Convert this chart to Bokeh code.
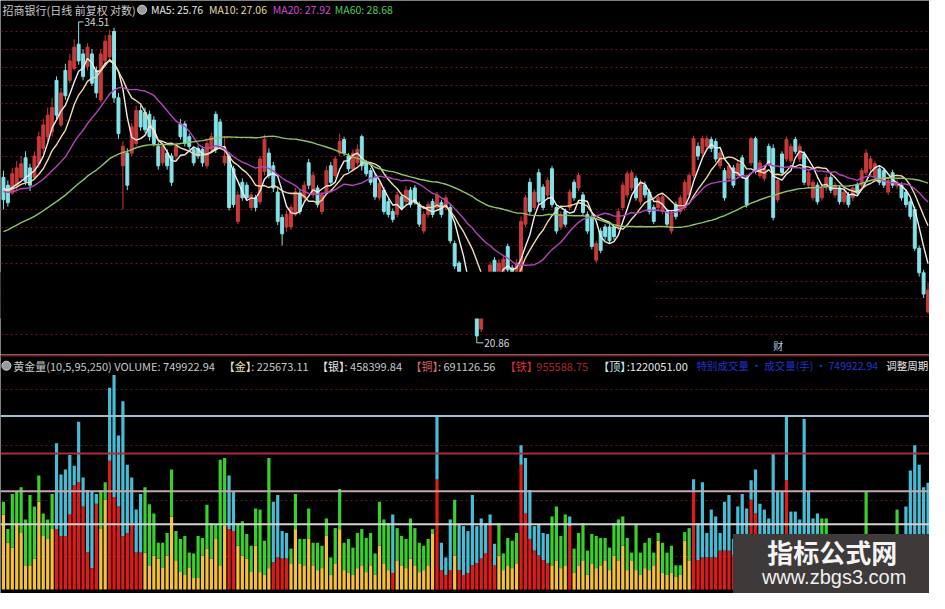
import numpy as np
from bokeh.plotting import figure
from bokeh.models import Range1d, Label, Span, BoxAnnotation, ColumnDataSource, FixedTicker
from bokeh.layouts import column
from bokeh.embed import file_html
from bokeh.resources import INLINE

# ---------------- data ----------------
OPEN = [26.96, 26.63, 26.30, 26.63, 26.96, 27.81, 27.37, 26.96, 27.55, 28.23,
        28.76, 28.99, 31.45, 29.30, 31.95, 31.45, 32.05, 33.31, 32.80, 32.15,
        32.80, 31.95, 30.49, 32.44, 32.64, 33.99, 30.59, 27.46, 28.02, 28.02,
        28.45, 29.98, 29.89, 29.80, 29.53, 28.32, 27.59, 28.02, 27.89, 27.89,
        29.35, 29.35, 28.76, 28.19, 28.23, 28.19, 27.46, 28.19, 29.80, 29.44,
        27.59, 27.89, 27.33, 25.14, 26.75, 26.63, 25.70, 26.10, 25.94, 27.21,
        28.02, 27.46, 26.34, 25.30, 24.92, 24.92, 25.42, 26.30, 26.10, 27.59,
        26.22, 26.51, 25.54, 26.34, 27.46, 27.04, 28.02, 28.63, 27.89, 27.33,
        27.59, 28.76, 27.59, 27.25, 26.96, 26.10, 26.42, 25.94, 25.54, 25.42,
        26.14, 25.94, 26.42, 26.51, 25.82, 24.76, 25.42, 25.94, 25.70, 25.90,
        25.70, 25.70, 24.27, 23.53, 23.00, 22.75, 21.85, 22.29, 21.19, 21.85,
        22.82, 23.64, 23.13, 23.17, 24.16, 23.35, 22.75, 23.00, 25.03, 26.75,
        25.70, 27.16, 26.55, 26.22, 27.33, 25.70, 24.92, 25.54, 25.70, 26.75,
        26.51, 26.22, 25.42, 25.30, 23.64, 24.76, 24.92, 24.92, 24.92, 24.92,
        25.70, 26.22, 26.51, 26.92, 25.94, 26.63, 26.34, 25.70, 25.70, 25.54,
        25.54, 24.76, 25.82, 25.54, 25.70, 26.22, 27.04, 28.32, 28.02, 28.32,
        28.63, 28.54, 27.46, 27.25, 26.92, 27.37, 27.04, 27.81, 26.92, 27.59,
        28.67, 27.04, 26.92, 28.32, 28.23, 26.02, 27.98, 27.76, 27.68, 28.63,
        27.76, 27.98, 26.63, 26.10, 26.63, 26.10, 26.51, 26.96, 26.22, 26.51,
        25.94, 26.22, 26.10, 26.63, 26.63, 27.16, 27.33, 26.96, 27.33, 27.25,
        26.34, 27.16, 26.59, 26.63, 26.34, 25.94, 25.62, 24.09, 23.17, 21.78]
HIGH = [27.25, 26.83, 27.37, 27.68, 27.89, 28.10, 27.55, 28.10, 28.99, 29.58,
        30.12, 30.59, 31.65, 31.07, 32.29, 32.80, 33.57, 34.51, 33.05, 33.36,
        33.05, 32.15, 33.05, 33.78, 34.09, 34.19, 30.83, 28.54, 28.23, 29.39,
        30.21, 30.21, 30.12, 29.98, 29.71, 28.50, 28.45, 28.19, 28.02, 28.50,
        29.58, 29.49, 28.90, 28.32, 28.36, 28.32, 28.58, 28.94, 29.94, 29.58,
        28.76, 28.06, 27.46, 26.38, 26.92, 26.75, 26.34, 26.22, 27.89, 28.85,
        28.23, 27.63, 26.51, 25.42, 25.58, 25.82, 26.51, 26.42, 26.79, 27.76,
        27.21, 26.63, 26.34, 27.46, 27.63, 27.89, 28.90, 28.76, 28.02, 28.19,
        28.41, 28.85, 27.72, 27.37, 27.12, 26.83, 26.55, 26.06, 25.66, 26.34,
        26.26, 26.59, 26.55, 26.63, 25.94, 25.54, 25.94, 26.06, 26.34, 26.02,
        26.22, 25.82, 24.38, 23.61, 23.10, 22.82, 22.61, 22.47, 21.95, 22.75,
        23.57, 23.75, 23.68, 23.83, 24.27, 23.46, 23.68, 25.34, 26.22, 26.92,
        26.46, 27.33, 26.67, 26.96, 27.46, 25.82, 25.54, 25.66, 26.46, 26.87,
        27.16, 26.34, 25.54, 25.42, 24.38, 24.88, 25.03, 25.03, 25.03, 25.66,
        26.75, 27.25, 27.29, 27.04, 26.87, 26.79, 26.46, 25.82, 26.22, 26.26,
        25.66, 25.54, 25.94, 26.22, 26.87, 27.16, 28.81, 28.50, 28.81, 28.81,
        28.76, 28.67, 28.15, 27.37, 27.59, 27.50, 27.68, 27.94, 27.04, 28.76,
        28.76, 27.72, 27.46, 28.45, 28.41, 26.96, 28.10, 28.76, 28.45, 28.76,
        28.45, 28.10, 27.29, 26.87, 26.75, 26.63, 27.08, 27.08, 26.75, 26.63,
        26.46, 26.34, 26.63, 26.75, 27.37, 28.19, 27.89, 27.68, 27.46, 27.37,
        26.96, 27.29, 26.87, 26.75, 26.46, 26.06, 25.74, 24.20, 23.28, 22.82]
LOW = [25.62, 25.74, 26.22, 26.42, 26.79, 26.63, 26.38, 26.83, 27.37, 27.98,
       28.54, 28.76, 29.58, 29.21, 30.49, 31.31, 31.95, 32.24, 31.45, 31.95,
       31.17, 30.59, 30.35, 32.24, 32.54, 30.35, 28.67, 25.62, 26.42, 27.89,
       28.32, 29.03, 28.94, 28.58, 28.32, 27.29, 27.46, 27.29, 26.59, 27.72,
       28.63, 28.32, 28.19, 27.46, 27.76, 27.42, 27.33, 28.06, 28.02, 28.19,
       27.46, 25.58, 25.70, 25.03, 25.98, 25.98, 25.58, 25.54, 25.82, 27.04,
       26.92, 26.34, 24.99, 24.20, 24.73, 24.80, 25.34, 25.42, 25.98, 26.46,
       26.10, 25.70, 25.42, 26.22, 26.63, 26.92, 27.89, 27.89, 27.21, 27.21,
       27.46, 27.25, 27.00, 26.63, 26.02, 25.98, 25.42, 25.30, 25.10, 25.30,
       25.58, 25.82, 25.70, 25.82, 24.92, 24.65, 25.30, 25.30, 25.58, 25.30,
       25.58, 24.27, 23.31, 22.64, 22.19, 21.92, 21.71, 20.86, 21.09, 21.78,
       22.71, 23.06, 22.96, 23.06, 23.17, 22.61, 22.64, 22.82, 24.92, 25.42,
       25.58, 25.82, 25.58, 26.10, 25.70, 24.65, 24.80, 24.92, 25.58, 25.98,
       26.38, 25.38, 24.65, 24.05, 23.53, 23.90, 24.42, 24.27, 24.42, 24.80,
       25.58, 26.10, 26.38, 25.98, 25.82, 26.10, 25.42, 25.03, 25.58, 25.42,
       24.92, 24.65, 25.22, 25.42, 25.58, 26.10, 26.92, 27.72, 27.89, 28.19,
       28.06, 27.63, 27.33, 25.98, 26.79, 26.51, 26.92, 26.92, 25.70, 27.46,
       27.12, 26.92, 26.79, 27.46, 25.18, 25.90, 27.04, 27.63, 27.55, 27.98,
       27.63, 26.63, 26.51, 25.98, 25.82, 25.98, 26.38, 26.30, 26.10, 25.82,
       25.82, 25.70, 25.98, 26.18, 26.51, 27.04, 27.21, 26.83, 26.63, 26.51,
       26.22, 26.51, 26.46, 25.98, 25.70, 25.22, 23.98, 23.03, 22.26, 21.71]
CLOSE = [26.02, 25.90, 27.12, 27.37, 27.55, 26.79, 26.63, 27.89, 28.76, 29.30,
         29.76, 30.12, 29.76, 30.83, 30.69, 32.44, 33.15, 32.44, 31.65, 33.15,
         31.31, 30.83, 32.80, 33.47, 33.78, 30.59, 28.90, 28.32, 26.63, 29.21,
         29.98, 29.21, 29.08, 28.76, 28.45, 27.46, 28.32, 27.46, 26.75, 28.32,
         28.76, 28.45, 28.32, 27.59, 27.89, 27.59, 28.45, 28.76, 28.19, 28.32,
         27.89, 25.70, 25.82, 26.22, 26.10, 26.10, 26.22, 25.70, 27.76, 28.63,
         27.04, 26.51, 25.14, 24.65, 25.42, 25.70, 26.34, 25.54, 26.63, 26.63,
         27.04, 25.82, 26.22, 27.25, 26.75, 27.76, 28.54, 28.02, 27.33, 28.02,
         28.19, 27.46, 27.12, 26.75, 26.14, 26.71, 25.54, 25.42, 25.22, 26.22,
         25.70, 26.42, 25.82, 25.94, 25.03, 25.42, 25.82, 25.42, 26.22, 25.42,
         26.10, 24.38, 23.42, 22.82, 22.29, 22.05, 22.47, 20.96, 21.85, 22.64,
         23.46, 23.17, 23.53, 23.68, 23.28, 22.75, 23.53, 25.14, 26.10, 25.54,
         26.34, 25.94, 25.70, 26.83, 25.82, 24.76, 25.42, 25.03, 26.34, 26.10,
         27.04, 25.50, 24.76, 24.16, 24.27, 24.01, 24.54, 24.38, 24.54, 25.54,
         26.63, 27.12, 27.16, 26.10, 26.75, 26.22, 25.54, 25.14, 26.10, 26.14,
         25.03, 25.42, 25.34, 26.10, 26.75, 27.04, 28.67, 27.89, 28.67, 28.67,
         28.23, 27.76, 28.02, 26.10, 27.46, 26.63, 27.55, 27.04, 25.82, 28.67,
         27.25, 27.59, 27.33, 27.59, 25.30, 26.83, 27.16, 28.63, 28.32, 28.10,
         28.32, 26.75, 27.16, 26.75, 25.94, 26.51, 26.96, 26.42, 26.63, 25.94,
         26.34, 25.82, 26.51, 26.30, 27.25, 28.02, 27.76, 27.55, 26.75, 26.63,
         26.83, 26.63, 26.75, 26.10, 25.82, 25.34, 24.09, 23.17, 22.40, 22.54]
# closes before the visible window (needed for the moving averages)
HIST_CLOSE = [21.55, 21.70, 21.61, 21.82, 22.00, 21.91, 22.15, 22.30, 22.18, 22.40,
              22.55, 22.48, 22.72, 22.60, 22.81, 22.95, 22.86, 23.08, 23.00, 23.22,
              23.15, 23.35, 23.50, 23.42, 23.65, 23.80, 23.72, 23.98, 24.15,
              25.10, 25.80, 26.50, 27.05, 27.60, 27.90, 27.55, 27.75, 27.30, 26.90,
              26.85, 26.50, 26.70, 26.30, 26.05, 26.40, 26.20, 25.95, 26.30, 26.55,
              26.25, 26.00, 26.35, 26.60, 26.40, 26.15, 26.30, 26.55, 26.75, 26.90]
MA_PERIODS = [5, 10, 20, 60]
MA_LAST = [25.76, 27.06, 27.92, 28.68]   # values printed in the header

# volume in 万手 (total bar, lower segment) and heavy-volume flag
VOL = [61.7, 42.5, 67.2, 68.5, 72.0, 49.3, 66.5, 58.3, 80.2, 53.5,
       49.3, 67.2, 102.8, 80.9, 84.3, 94.6, 87.0, 117.9, 78.8, 69.9,
       68.5, 67.2, 69.9, 75.4, 141.9, 150.8, 108.3, 132.3, 87.7, 78.8,
       56.2, 67.2, 72.0, 60.0, 53.5, 32.9, 32.9, 39.8, 84.3, 41.1,
       35.6, 37.7, 26.0, 25.4, 37.7, 36.3, 59.6, 46.6, 45.9, 91.2,
       92.5, 80.2, 68.5, 46.6, 48.0, 39.1, 30.8, 56.9, 56.2, 34.3,
       92.5, 61.7, 66.5, 41.1, 39.8, 28.8, 67.2, 35.6, 35.6, 56.9,
       32.9, 32.9, 30.8, 50.0, 22.6, 43.2, 70.6, 32.9, 35.6, 29.5,
       39.8, 42.5, 36.3, 39.8, 25.4, 61.7, 49.3, 46.6, 52.8, 43.2,
       37.7, 35.6, 50.0, 43.2, 32.9, 30.8, 35.6, 42.5, 122.0, 32.9,
       22.6, 49.3, 63.1, 45.9, 44.6, 41.1, 66.5, 44.6, 50.0, 46.6,
       52.8, 32.2, 46.6, 25.4, 36.3, 34.3, 39.8, 101.4, 92.5, 69.9,
       44.6, 45.9, 39.8, 39.1, 51.4, 58.3, 37.7, 52.8, 51.4, 28.8,
       39.8, 46.6, 27.4, 39.1, 37.7, 36.3, 36.3, 29.5, 46.6, 49.3,
       51.4, 36.3, 26.0, 45.9, 26.0, 32.9, 36.3, 26.0, 39.8, 32.9,
       26.0, 30.8, 17.1, 17.1, 40.4, 43.2, 77.5, 46.6, 75.4, 39.8,
       56.2, 51.4, 39.8, 61.7, 66.5, 35.6, 58.3, 67.2, 56.9, 76.8,
       84.3, 60.3, 56.2, 50.0, 96.0, 68.5, 68.5, 122.0, 54.8, 54.8,
       49.3, 119.9, 68.5, 50.0, 53.5, 50.0, 50.0, 30.8, 27.4, 34.3,
       24.0, 30.8, 27.4, 34.3, 30.8, 68.5, 27.4, 34.3, 30.8, 24.0,
       34.3, 30.8, 56.2, 34.3, 58.3, 83.6, 101.4, 87.7, 72.0, 74.99]
VOL_BASE = [52.8, 32.9, 29.5, 46.6, 39.8, 17.1, 17.1, 21.9, 61.7, 37.7,
            35.6, 42.5, 42.5, 37.7, 37.7, 52.8, 73.3, 75.4, 58.3, 26.0,
            15.1, 60.3, 42.5, 63.1, 90.5, 65.1, 58.3, 37.7, 39.8, 46.6,
            26.0, 26.0, 26.0, 17.1, 24.0, 21.9, 15.1, 24.0, 51.4, 20.6,
            12.3, 10.3, 15.1, 8.2, 8.2, 24.0, 28.8, 21.9, 35.6, 17.1,
            44.6, 42.5, 41.1, 30.8, 24.0, 21.9, 12.3, 30.8, 12.3, 10.3,
            15.1, 19.2, 22.6, 21.9, 21.9, 18.5, 42.5, 18.5, 17.1, 35.6,
            17.1, 13.7, 15.1, 37.7, 10.3, 18.5, 42.5, 13.7, 11.7, 10.3,
            15.1, 17.1, 12.3, 17.1, 10.3, 30.8, 18.5, 13.7, 11.7, 20.6,
            17.1, 15.1, 21.9, 17.1, 12.3, 13.7, 17.1, 39.1, 77.5, 13.7,
            10.3, 13.7, 24.0, 13.7, 10.3, 11.7, 17.1, 18.5, 21.9, 25.4,
            46.0, 17.1, 24.0, 13.7, 17.1, 15.1, 18.5, 87.7, 53.5, 35.6,
            27.4, 24.0, 20.6, 18.5, 17.1, 20.6, 15.1, 17.1, 44.6, 11.7,
            17.1, 20.6, 10.3, 18.5, 15.1, 17.1, 20.6, 13.7, 24.0, 20.6,
            30.8, 13.7, 20.6, 13.7, 10.3, 15.1, 13.7, 17.1, 34.3, 11.7,
            10.3, 11.7, 8.9, 10.3, 34.3, 20.6, 69.9, 20.6, 22.6, 22.6,
            22.6, 22.6, 27.4, 27.4, 27.4, 24.0, 24.0, 20.6, 20.6, 63.1,
            53.5, 30.8, 27.4, 24.0, 30.8, 27.4, 27.4, 76.8, 27.4, 24.0,
            24.0, 30.8, 27.4, 24.0, 24.0, 20.6, 20.6, 13.7, 13.7, 17.1,
            10.3, 13.7, 11.7, 17.1, 13.7, 30.8, 13.7, 17.1, 11.7, 10.3,
            17.1, 13.7, 24.0, 20.6, 24.0, 30.8, 37.7, 34.3, 30.8, 34.3]
HEAVY = [0, 0, 0, 0, 0, 0, 0, 0, 0, 0,
         0, 0, 1, 1, 1, 1, 1, 1, 1, 1,
         1, 1, 0, 0, 1, 1, 1, 1, 1, 1,
         1, 1, 0, 0, 0, 0, 0, 0, 0, 0,
         0, 0, 0, 0, 0, 0, 0, 0, 0, 0,
         0, 1, 1, 0, 0, 0, 0, 0, 0, 0,
         0, 1, 1, 1, 1, 0, 0, 0, 0, 0,
         0, 0, 0, 0, 0, 0, 0, 0, 0, 0,
         0, 0, 0, 0, 0, 0, 0, 0, 1, 0,
         0, 0, 0, 0, 0, 0, 0, 0, 1, 1,
         1, 1, 0, 1, 1, 1, 1, 1, 1, 1,
         1, 1, 0, 0, 0, 0, 0, 1, 1, 1,
         1, 1, 1, 1, 0, 0, 0, 0, 1, 0,
         0, 0, 0, 0, 0, 0, 0, 0, 0, 0,
         0, 0, 0, 0, 0, 0, 0, 0, 0, 0,
         0, 0, 0, 0, 0, 0, 1, 1, 1, 1,
         1, 1, 1, 1, 1, 1, 1, 1, 1, 1,
         1, 1, 1, 1, 1, 1, 1, 1, 1, 1,
         1, 1, 1, 1, 1, 0, 0, 0, 0, 0,
         0, 0, 0, 0, 0, 0, 0, 0, 0, 0,
         0, 0, 0, 1, 1, 1, 1, 1, 1, 1]
# indicator levels printed in the lower header (手)
LEVELS = {"金": 225673.11, "银": 458399.84, "铜": 691126.56, "铁": 955588.75, "顶": 1220051.00}
VOLUME_NOW = 749922.94

N = len(CLOSE)
assert len(OPEN) == len(HIGH) == len(LOW) == N == len(VOL) == len(VOL_BASE) == len(HEAVY)
assert len(HIST_CLOSE) == 59

# ---------------- layout / scales ----------------
REF_W, REF_H, REF_SPLIT = 945.0, 609.0, 364.0
W, H = 929, 593
H_TOP = round(H * REF_SPLIT / REF_H)
H_BOT = H - H_TOP

X0, DX = 3.0, 4.5
def rx(px):
    return (px - X0) / DX

HI_Y, LO_Y = 22.0, 348.0
P_MAX, P_MIN = max(HIGH), min(LOW)
P_PX = (LO_Y - HI_Y) / np.log(P_MAX / P_MIN)
def ry_p(py):
    return P_MAX * np.exp(-(py - HI_Y) / P_PX)

BASE_Y, TOP_Y = 605.0, 427.0
V_PX = (LEVELS["顶"] / 1e4) / (BASE_Y - TOP_Y)
def ry_v(py):
    return (BASE_Y - py) * V_PX

xr = Range1d(rx(0), rx(REF_W))
FONT = "Noto Sans CJK SC"
BG = "black"

# ---------------- upper pane: candles ----------------
p1 = figure(width=W, height=H_TOP, x_range=xr, y_range=Range1d(ry_p(REF_SPLIT), ry_p(0)),
            y_axis_type="log", x_axis_location=None, y_axis_location=None,
            toolbar_location=None, output_backend="svg", background_fill_color=BG,
            border_fill_color=BG, min_border=0, outline_line_color=None)
p1.xgrid.visible = False
p1.ygrid.ticker = FixedTicker(ticks=[float(ry_p(32.3 + 18.3 * k)) for k in range(18)])
p1.ygrid.grid_line_color = "#6a1616"
p1.ygrid.grid_line_dash = "2 3"
p1.ygrid.grid_line_width = 1

o = np.array(OPEN); c = np.array(CLOSE); h = np.array(HIGH); l = np.array(LOW)
x = np.arange(N)
up = c >= o
ccol = np.where(up, "#c83a3a", "#84e2e8")
src = ColumnDataSource(dict(x=x, h=h, l=l, top=np.maximum(o, c), bot=np.minimum(o, c), col=ccol))
p1.segment(x0="x", y0="h", x1="x", y1="l", line_color="col", line_width=1, source=src)
p1.vbar(x="x", width=0.66, top="top", bottom="bot", fill_color="col", line_color="col", source=src)

full = np.array(HIST_CLOSE + CLOSE)
off = len(HIST_CLOSE)
MA_COL = ["#eeeeee", "#eedcb0", "#b444bc", "#8cc466"]
for n, col in zip(MA_PERIODS, MA_COL):
    ma = [full[off + i - n + 1: off + i + 1].mean() for i in range(N)]
    p1.line(x, ma, line_color=col, line_width=1.4)

# blacked-out strip of the screenshot
p1.add_layout(BoxAnnotation(left=rx(-5), right=rx(663), bottom=ry_p(327), top=ry_p(279),
                            fill_color=BG, fill_alpha=1.0, line_color=None))

# high / low markers
imax = int(np.argmax(h)); imin = int(np.argmin(l))
p1.line([imax, imax + 1.1], [P_MAX, P_MAX], line_color="#cfcfcf", line_width=1)
p1.add_layout(Label(x=imax + 1.3, y=P_MAX, text=f"{P_MAX:.2f}", text_color="#d8d8d8",
                    text_font=FONT, text_font_size="10px", text_baseline="middle"))
y_low_lbl = ry_p(352)
p1.line([imin, imin, imin + 1.5], [P_MIN, y_low_lbl, y_low_lbl], line_color="#cfcfcf", line_width=1)
p1.add_layout(Label(x=imin + 1.7, y=y_low_lbl, text=f"{P_MIN:.2f}", text_color="#d8d8d8",
                    text_font=FONT, text_font_size="10px", text_baseline="middle"))
p1.add_layout(Label(x=rx(786), y=ry_p(355), text="财", text_color="#b8c8e8",
                    text_font=FONT, text_font_size="10px", text_baseline="middle"))

# header
hy = ry_p(9.5)
p1.scatter([rx(144)], [hy], size=9, fill_color="#9a9a9a", line_color="#d0d0d0")
p1.add_layout(Label(x=rx(2), y=hy, text="招商银行(日线 前复权 对数)", text_color="#c8c8c8",
                    text_font=FONT, text_font_size="11px", text_baseline="middle"))
names = ["MA5", "MA10", "MA20", "MA60"]
head_cols = ["#e6e6e6", "#e4d8a8", "#d448d4", "#58c858"]
for nm, v, cx, col in zip(names, MA_LAST, [153, 212, 277, 340], head_cols):
    p1.add_layout(Label(x=rx(cx), y=hy, text=f"{nm}: {v:.2f}", text_color=col, text_font=FONT,
                        text_font_size="10.5px", text_baseline="middle"))

# ---------------- lower pane: 黄金量 volume ----------------
p2 = figure(width=W, height=H_BOT, x_range=xr, y_range=Range1d(ry_v(REF_H), ry_v(REF_SPLIT)),
            x_axis_location=None, y_axis_location=None, toolbar_location=None,
            output_backend="svg", background_fill_color=BG, border_fill_color=BG,
            min_border=0, outline_line_color=None)
p2.xgrid.visible = False
p2.ygrid.ticker = FixedTicker(ticks=[float(ry_v(400 + 57 * k)) for k in range(4)])
p2.ygrid.grid_line_color = "#5e1616"
p2.ygrid.grid_line_dash = "2 3"

heavy = np.array(HEAVY) == 1
vsrc = ColumnDataSource(dict(x=x, v=VOL, b=VOL_BASE,
                             cb=np.where(heavy, "#e01a1a", "#f4c23a"),
                             ct=np.where(heavy, "#48bcd4", "#3acf2c")))
p2.vbar(x="x", width=0.72, bottom=0, top="b", fill_color="cb", line_color=None, source=vsrc)
p2.vbar(x="x", width=0.72, bottom="b", top="v", fill_color="ct", line_color=None, source=vsrc)

for key, col in [("顶", "#a6bfcc"), ("铁", "#b02a42"), ("铜", "#c4a6b0"), ("银", "#d2d2d2")]:
    p2.add_layout(Span(location=LEVELS[key] / 1e4, dimension="width", line_color=col, line_width=2))
p2.add_layout(Span(location=ry_v(365), dimension="width", line_color="#781c1c", line_width=2))

vy = ry_v(375.5)
p2.scatter([rx(6)], [vy], size=9, fill_color="#9a9a9a", line_color="#d0d0d0")
head2 = [
    (f"黄金量(10,5,95,250) VOLUME: {VOLUME_NOW:.2f}", 13, "#c8c8c8", "11px"),
    ("【金】", 227, "#ece4b8", "11px"), (f": {LEVELS['金']:.2f}", 255, "#c8c8c8", "11px"),
    ("【银】", 322, "#e8e8e8", "11px"), (f": {LEVELS['银']:.2f}", 350, "#c8c8c8", "11px"),
    ("【铜】", 417, "#d86a6a", "11px"), (f": {LEVELS['铜']:.2f}", 445, "#c8c8c8", "11px"),
    ("【铁】", 513, "#d83030", "11px"), (f" {LEVELS['铁']:.2f}", 545, "#a82424", "11px"),
    ("【顶】", 608, "#c8ecec", "11px"), (f":{LEVELS['顶']:.2f}", 637, "#e8e8e8", "11px"),
    (f"特别成交量 · 成交量(手) · {VOLUME_NOW:.2f}", 708, "#2233cc", "10.5px"),
]
for t, cx, col, fs in head2:
    p2.add_layout(Label(x=rx(cx), y=vy, text=t, text_color=col, text_font=FONT,
                        text_font_size=fs, text_baseline="middle"))
p2.add_layout(Label(x=rx(REF_W) - 0.3, y=vy, text="调整周期", text_color="#e8e8e8", text_font=FONT,
                    text_font_size="10.5px", text_align="right", text_baseline="middle"))

# site watermark in the corner of the screenshot
p2.add_layout(BoxAnnotation(left=rx(745), right=rx(REF_W) + 1, bottom=ry_v(REF_H) - 1, top=ry_v(548),
                            fill_color="#3e3a3a", fill_alpha=1.0, line_color=None))
p2.add_layout(Label(x=rx(846), y=ry_v(566), text="指标公式网", text_color="#f4f4f4", text_font=FONT,
                    text_font_size="26px", text_font_style="bold", text_align="center",
                    text_baseline="middle"))
p2.add_layout(Label(x=rx(848), y=ry_v(592), text="www.zbgs3.com", text_color="#f0f0f0",
                    text_font="Liberation Sans", text_font_size="20px", text_align="center",
                    text_baseline="middle"))

layout = column(p1, p2, spacing=0)
open("out.html", "w").write(file_html(layout, INLINE))
